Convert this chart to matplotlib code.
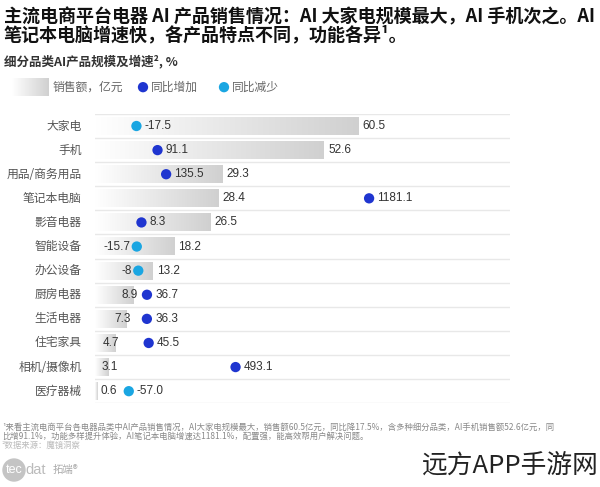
import matplotlib.pyplot as plt
import numpy as np
from matplotlib.colors import LinearSegmentedColormap
from matplotlib.patches import Circle

plt.rcParams['font.family'] = ['Noto Sans CJK SC', 'DejaVu Sans']

categories = ["大家电", "手机", "用品/商务用品", "笔记本电脑", "影音电器", "智能设备",
              "办公设备", "厨房电器", "生活电器", "住宅家具", "相机/摄像机", "医疗器械"]
sales = [60.5, 52.6, 29.3, 28.4, 26.5, 18.2, 13.2, 8.9, 7.3, 4.7, 3.1, 0.6]
growth = [-17.5, 91.1, 135.5, 1181.1, 8.3, -15.7, -8, 36.7, 36.3, 45.5, 493.1, -57.0]
growth_labels = ["-17.5", "91.1", "135.5", "1181.1", "8.3", "-15.7", "-8",
                 "36.7", "36.3", "45.5", "493.1", "-57.0"]

dark_blue = "#1f35d0"
light_blue = "#1aa6e2"
grad = LinearSegmentedColormap.from_list("g", ["#ffffff", "#d0d0d0"])
num_font = ["Liberation Sans", "DejaVu Sans"]

fig = plt.figure(figsize=(6, 4.87), dpi=100)

# main axes: bars
ax = fig.add_axes([0.158, 0.172, 0.692, 0.594])
ax.axis("off")

g = np.linspace(0, 1, 256).reshape(1, -1)
for i, v in enumerate(sales):
    ax.imshow(g, cmap=grad, aspect="auto", extent=(0, v, i + 0.37, i - 0.37), zorder=1)
    if v >= 10:
        ax.text(v + 1.0, i, f"{v}", ha="left", va="center", fontsize=8.5,
                color="#333333", family=num_font)
    else:
        ax.text(max(v + 1.0, 5.2), i, f"{v}", ha="right", va="center", fontsize=8.5,
                color="#333333", family=num_font)
    ax.text(-3.0, i, categories[i], ha="right", va="center", fontsize=8.5, color="#555555")

for k in range(len(categories) + 1):
    ax.plot([0, 95.4], [k - 0.5, k - 0.5], color="#e8e8e8", lw=1.0, zorder=0)
ax.set_xlim(0, 95.4)
ax.set_ylim(len(categories) - 0.5, -0.5)

# dots on their own scale
ax2 = ax.twiny()
ax2.axis("off")
left_side = ["-15.7", "-8"]
for i, v in enumerate(growth):
    c = dark_blue if v > 0 else light_blue
    ax2.scatter(v, i, s=55, color=c, zorder=5, edgecolors="none")
    lab = growth_labels[i]
    if lab in left_side:
        ax2.text(v - 34, i, lab, ha="right", va="center", fontsize=8.5,
                 color="#333333", family=num_font)
    else:
        ax2.text(v + 42, i, lab, ha="left", va="center", fontsize=8.5,
                 color="#333333", family=num_font)
ax2.set_xlim(-232, 1907)
ax2.set_ylim(len(categories) - 0.5, -0.5)

# titles
fig.text(0.006, 0.965, "主流电商平台电器 AI 产品销售情况：AI 大家电规模最大，AI 手机次之。AI",
         fontsize=13, fontweight="bold", color="#111111", va="center")
fig.text(0.006, 0.928, "笔记本电脑增速快，各产品特点不同，功能各异¹。",
         fontsize=13, fontweight="bold", color="#111111", va="center")
fig.text(0.006, 0.873, "细分品类AI产品规模及增速², %", fontsize=9, fontweight="bold",
         color="#333333", va="center")

# legend
lax = fig.add_axes([0.0, 0.801, 1.0, 0.04])
lax.axis("off")
lax.imshow(g, cmap=grad, aspect="auto", extent=(12, 49, 0.05, 0.95))
lax.text(53, 0.5, "销售额，亿元", fontsize=8.5, color="#666666", va="center")
lax.scatter([143], [0.5], s=55, color=dark_blue, edgecolors="none")
lax.text(151, 0.5, "同比增加", fontsize=8.5, color="#666666", va="center")
lax.scatter([224], [0.5], s=55, color=light_blue, edgecolors="none")
lax.text(232, 0.5, "同比减少", fontsize=8.5, color="#666666", va="center")
lax.set_xlim(0, 600)
lax.set_ylim(0, 1)

# footnotes
fig.text(0.003, 1 - 427 / 487,
         "¹来看主流电商平台各电器品类中AI产品销售情况，AI大家电规模最大，销售额60.5亿元，同比降17.5%，含多种细分品类，AI手机销售额52.6亿元，同",
         fontsize=6, color="#888888", va="center")
fig.text(0.003, 1 - 436 / 487,
         "比增91.1%，功能多样提升体验，AI笔记本电脑增速达1181.1%，配置强，能高效帮用户解决问题。",
         fontsize=6, color="#888888", va="center")
fig.text(0.003, 1 - 445 / 487, "²数据来源：魔镜洞察", fontsize=6, color="#bbbbbb", va="center")

# logo and watermark
bax = fig.add_axes([0.0, 0.0, 1.0, 0.08])
bax.axis("off")
bax.add_patch(Circle((14, 17), 11, color="#c4c4c4"))
bax.text(14, 17, "tec", fontsize=9, color="white", ha="center", va="center", family=num_font)
bax.text(25, 17, "dat", fontsize=10.5, color="#bbbbbb", va="center", family=num_font)
bax.text(53, 17, "拓端®", fontsize=7.5, color="#aaaaaa", va="center")
bax.text(599, 21, "远方APP手游网", fontsize=18.5, color="#222222", ha="right",
         va="center", fontweight="light")
bax.set_xlim(0, 600)
bax.set_ylim(0, 39)
bax.set_aspect("auto")

fig.savefig("out.png", dpi=100)
